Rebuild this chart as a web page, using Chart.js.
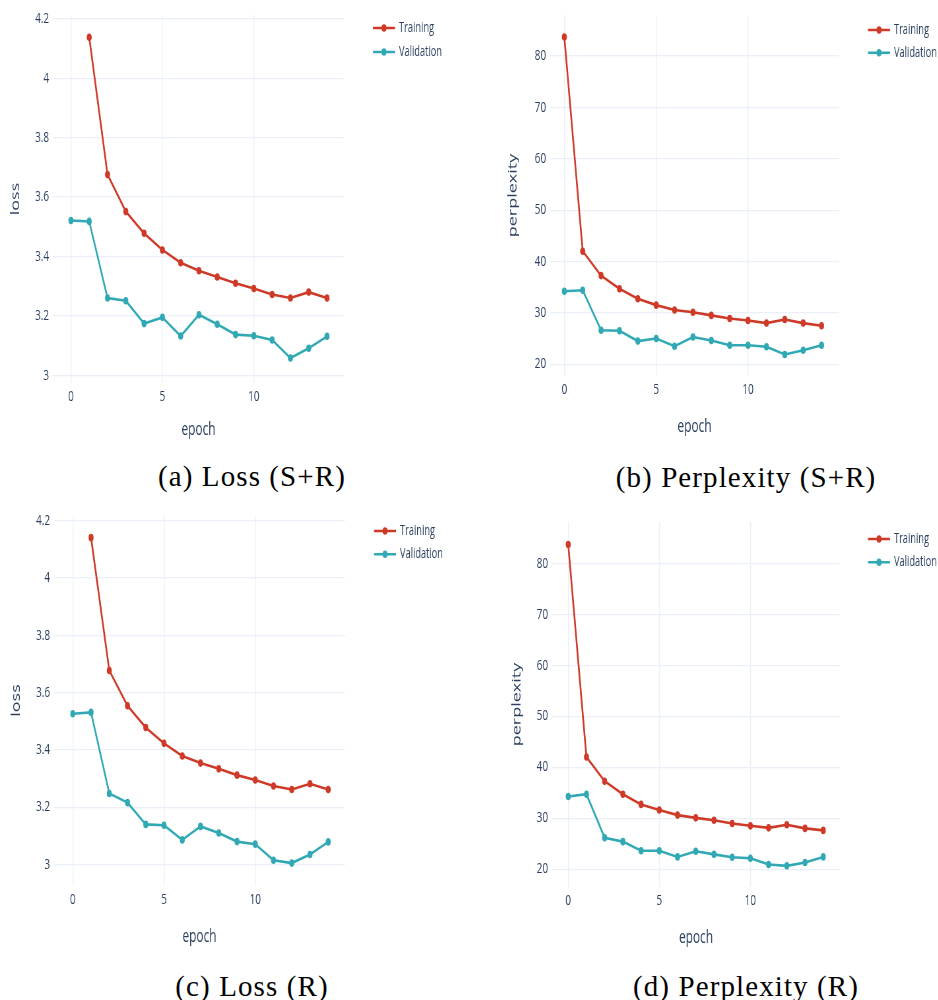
<!DOCTYPE html>
<html>
<head>
<meta charset="utf-8">
<script src="https://cdn.jsdelivr.net/npm/chart.js@4.4.1/dist/chart.umd.min.js"></script>
<style>
body { margin: 0; background: #fff; width: 938px; height: 1000px; position: relative; overflow: hidden; }
.panel { position: absolute; transform-origin: 0 0; }
.panel canvas { display: block; }
.cap { position: absolute; font-family: "Liberation Serif", serif; font-size: 29px; color: #000;
       white-space: nowrap; transform: translateX(-50%); line-height: 34px; letter-spacing: 1.1px; }
</style>
</head>
<body>
<div class="panel" id="pa"><canvas id="ca"></canvas></div>
<div class="panel" id="pb"><canvas id="cb"></canvas></div>
<div class="panel" id="pc"><canvas id="cc"></canvas></div>
<div class="panel" id="pd"><canvas id="cd"></canvas></div>
<div class="cap" style="left:252px; top:459px;">(a) Loss (S+R)</div>
<div class="cap" style="left:746px; top:460px;">(b) Perplexity (S+R)</div>
<div class="cap" style="left:252px; top:969px;">(c) Loss (R)</div>
<div class="cap" style="left:746px; top:969px;">(d) Perplexity (R)</div>
<script>
// values
var epochs = [0, 1, 2, 3, 4, 5, 6, 7, 8, 9, 10, 11, 12, 13, 14];

var lossTrainSR = [null, 4.138, 3.676, 3.551, 3.478, 3.422, 3.379, 3.352, 3.331, 3.310, 3.292, 3.272, 3.260, 3.280, 3.260];
var lossValSR   = [3.521, 3.518, 3.260, 3.251, 3.174, 3.195, 3.132, 3.204, 3.172, 3.137, 3.133, 3.119, 3.058, 3.091, 3.131];
var pplTrainSR  = [83.7, 42.0, 37.25, 34.7, 32.75, 31.5, 30.55, 30.1, 29.5, 28.9, 28.5, 28.0, 28.7, 28.0, 27.5];
var pplValSR    = [34.2, 34.4, 26.6, 26.5, 24.5, 25.0, 23.5, 25.3, 24.6, 23.7, 23.7, 23.4, 21.9, 22.7, 23.7];

var lossTrainR  = [null, 4.141, 3.677, 3.554, 3.478, 3.423, 3.379, 3.354, 3.334, 3.312, 3.295, 3.274, 3.262, 3.282, 3.262];
var lossValR    = [3.526, 3.531, 3.248, 3.216, 3.140, 3.137, 3.086, 3.133, 3.110, 3.080, 3.071, 3.015, 3.005, 3.035, 3.079];
var pplTrainR   = [83.7, 42.0, 37.25, 34.7, 32.7, 31.6, 30.6, 30.06, 29.6, 28.96, 28.5, 28.1, 28.7, 28.0, 27.6];
var pplValR     = [34.25, 34.7, 26.15, 25.4, 23.6, 23.6, 22.4, 23.5, 22.9, 22.35, 22.15, 20.9, 20.65, 21.3, 22.4];

var lossTicks  = [3, 3.2, 3.4, 3.6, 3.8, 4, 4.2];
var pplTicks   = [20, 30, 40, 50, 60, 70, 80];
var epochTicks = [0, 5, 10];
var seriesNames = ["Training", "Validation"];

// the reference is squeezed sideways, so every canvas is drawn wide and scaled down in x
const S = 0.66;
const TXT = "#2a3f5f";
const GRID = "#ebf0f8";
const RED = "#cf3a28";
const TEAL = "#31a9b4";
const FONT = "'Open Sans', sans-serif";
const DOT = 3.8;

function pts(vals) {
    return epochs.map(function (e, i) { return { x: e, y: vals[i] }; });
}

// little legend drawn to the right of the plot, line with a dot like plotly
const sideLegend = {
    id: "sideLegend",
    afterDraw(chart, args, opts) {
        const ctx = chart.ctx;
        ctx.save();
        chart.data.datasets.forEach(function (ds, i) {
            const y = opts.ys[i];
            ctx.strokeStyle = ds.borderColor;
            ctx.lineWidth = 2.6;
            ctx.beginPath();
            ctx.moveTo(opts.x, y);
            ctx.lineTo(opts.x + opts.len, y);
            ctx.stroke();
            ctx.fillStyle = ds.borderColor;
            ctx.beginPath();
            ctx.arc(opts.x + opts.len / 2, y, DOT, 0, Math.PI * 2);
            ctx.fill();
            ctx.fillStyle = TXT;
            ctx.font = "14px " + FONT;
            ctx.textBaseline = "middle";
            ctx.fillText(ds.label, opts.x + opts.len + opts.gap, y);
        });
        ctx.restore();
    }
};

function makePanel(p) {
    const box = p.box, a = p.area;
    const wrap = document.getElementById(p.wrap);
    const cv = document.getElementById(p.canvas);
    const W = Math.round(box.width / S), H = box.height;
    wrap.style.left = box.left + "px";
    wrap.style.top = box.top + "px";
    wrap.style.width = W + "px";
    wrap.style.height = H + "px";
    wrap.style.transform = "scaleX(" + S + ")";
    cv.width = W; cv.height = H;
    cv.style.width = W + "px"; cv.style.height = H + "px";

    const lx = function (v) { return (v - box.left) / S; };
    const titleOff = 18 * 1.2 / 2;
    const padL = lx(p.titleX) - titleOff;
    const yW = lx(a.l) - padL;
    const padR = W - lx(a.r);
    const padT = a.t - box.top;
    const xH = p.epochY - a.b + titleOff;
    const padB = H - (a.b - box.top) - xH;

    return new Chart(cv, {
        type: "line",
        data: {
            datasets: [
                { label: seriesNames[0], data: pts(p.train), borderColor: RED, backgroundColor: RED,
                  borderWidth: 2.6, pointRadius: DOT, pointBorderWidth: 0, pointHoverRadius: DOT, tension: 0 },
                { label: seriesNames[1], data: pts(p.val), borderColor: TEAL, backgroundColor: TEAL,
                  borderWidth: 2.6, pointRadius: DOT, pointBorderWidth: 0, pointHoverRadius: DOT, tension: 0 }
            ]
        },
        options: {
            responsive: false,
            animation: false,
            devicePixelRatio: 1,
            layout: { padding: { left: padL, right: padR, top: padT, bottom: padB } },
            plugins: {
                legend: { display: false },
                tooltip: { enabled: false },
                sideLegend: { x: lx(p.legX), len: 22 / S, gap: 4 / S, ys: [p.legY[0] - box.top, p.legY[1] - box.top] }
            },
            scales: {
                x: {
                    type: "linear", position: "bottom", min: p.xr[0], max: p.xr[1],
                    afterBuildTicks: function (s) { s.ticks = epochTicks.map(function (v) { return { value: v }; }); },
                    afterFit: function (s) { s.height = xH; },
                    grid: { color: GRID, lineWidth: 1.5, drawTicks: false },
                    border: { display: false },
                    ticks: { color: TXT, font: { family: FONT, size: 15 }, padding: 5, maxRotation: 0,
                             callback: function (v) { return String(v); } },
                    title: { display: true, text: "epoch", color: TXT, font: { family: FONT, size: 18 }, padding: 0 }
                },
                y: {
                    type: "linear", position: "left", min: p.yr[0], max: p.yr[1],
                    afterBuildTicks: function (s) { s.ticks = p.yTicks.map(function (v) { return { value: v }; }); },
                    afterFit: function (s) { s.width = yW; },
                    grid: { color: GRID, lineWidth: 1.2, drawTicks: false },
                    border: { display: false },
                    ticks: { color: TXT, font: { family: FONT, size: 15 }, padding: 6,
                             callback: function (v) { return String(v); } },
                    title: { display: true, text: p.ytitle, color: TXT, font: { family: FONT, size: 18 }, padding: 0 }
                }
            }
        },
        plugins: [sideLegend]
    });
}

makePanel({ wrap: "pa", canvas: "ca", box: { left: 0, top: 0, width: 469, height: 445 },
    area: { l: 53, r: 344, t: 10, b: 383 }, titleX: 15.5, epochY: 430,
    legX: 373, legY: [28, 52], xr: [-0.98, 14.93], yr: [2.974, 4.213],
    yTicks: lossTicks, ytitle: "loss", train: lossTrainSR, val: lossValSR });

makePanel({ wrap: "pb", canvas: "cb", box: { left: 469, top: 0, width: 469, height: 445 },
    area: { l: 550, r: 839, t: 12, b: 376 }, titleX: 513, epochY: 426.7,
    legX: 868, legY: [30, 52.7], xr: [-0.78, 14.95], yr: [17.7, 88.0],
    yTicks: pplTicks, ytitle: "perplexity", train: pplTrainSR, val: pplValSR });

makePanel({ wrap: "pc", canvas: "cc", box: { left: 0, top: 500, width: 469, height: 450 },
    area: { l: 54, r: 345, t: 513, b: 886 }, titleX: 16.5, epochY: 936.7,
    legX: 374, legY: [531, 554.3], xr: [-1.03, 14.92], yr: [2.925, 4.22],
    yTicks: lossTicks, ytitle: "loss", train: lossTrainR, val: lossValR });

makePanel({ wrap: "pd", canvas: "cd", box: { left: 469, top: 500, width: 469, height: 450 },
    area: { l: 552, r: 840, t: 522, b: 887 }, titleX: 517, epochY: 938.3,
    legX: 868, legY: [539, 562.3], xr: [-0.89, 14.92], yr: [16.5, 88.1],
    yTicks: pplTicks, ytitle: "perplexity", train: pplTrainR, val: pplValR });
</script>
</body>
</html>
